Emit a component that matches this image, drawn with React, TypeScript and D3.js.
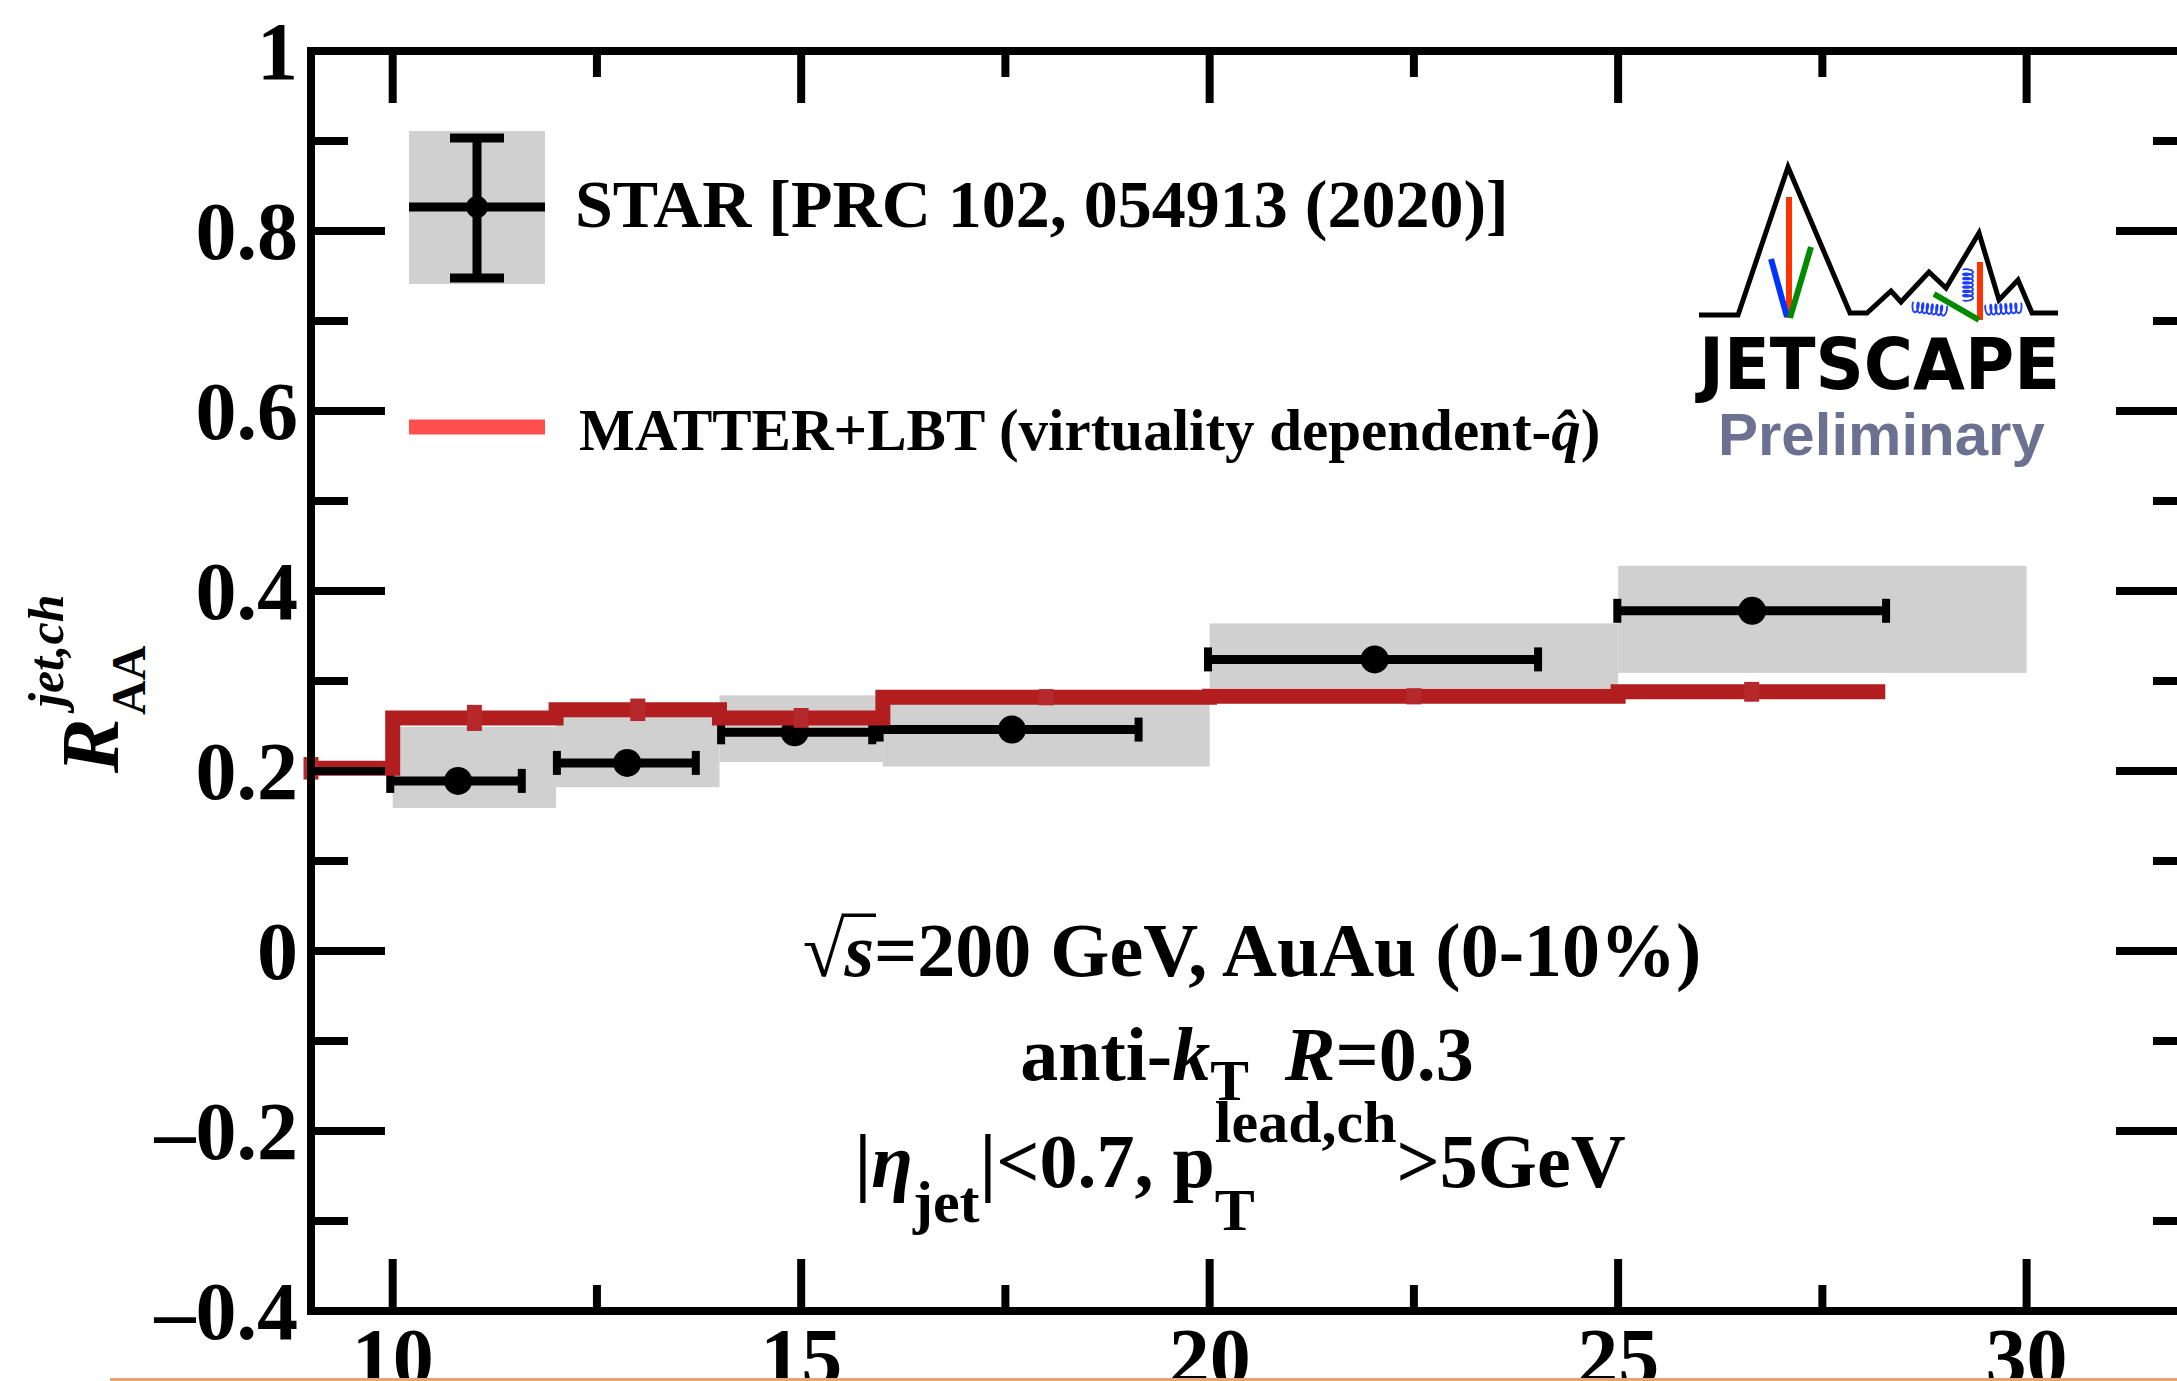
import { useEffect, useRef } from 'react'
import * as d3 from 'd3'

const W = 2177
const H = 1381

// STAR charged-jet R_AA, 0-10% AuAu
const starX = [10.8, 12.87, 14.92, 17.58, 22.02, 26.64]
const starY = [0.189, 0.209, 0.243, 0.246, 0.324, 0.378]
const starXLow = [9.97, 12.01, 14.02, 15.96, 19.98, 24.99]
const starXHigh = [11.58, 13.71, 15.87, 19.13, 24.02, 28.28]
// systematic boxes
const sysXLow = [10, 12, 14, 16, 20, 25]
const sysXHigh = [12, 14, 16, 20, 25, 30]
const sysYLow = [0.159, 0.182, 0.21, 0.205, 0.292, 0.309]
const sysYHigh = [0.249, 0.262, 0.284, 0.276, 0.364, 0.428]

// MATTER+LBT histogram
const modelEdges = [8, 10, 12, 14, 16, 20, 25, 28.27]
const modelY = [0.203, 0.259, 0.268, 0.259, 0.282, 0.283, 0.288]
const modelErr = [0.0125, 0.0145, 0.0125, 0.011, 0.009, 0.009, 0.011]

const xMajor = [10, 15, 20, 25, 30]
const xMinor = [12.5, 17.5, 22.5, 27.5]
const yMajor = [-0.4, -0.2, 0, 0.2, 0.4, 0.6, 0.8, 1]
const yMinor = [-0.3, -0.1, 0.1, 0.3, 0.5, 0.7, 0.9]
const yLabels = ['\u20130.4', '\u20130.2', '0', '0.2', '0.4', '0.6', '0.8', '1']

const SERIF = '"Liberation Serif", "Times New Roman", serif'
const GRAY = '#d0d0d0'
const MODEL = '#b21e20'

type Part = { t: string; size?: number; italic?: boolean; dy?: number; dx?: number; stack?: boolean; bar?: boolean }

// lays out a line of mixed text pieces and centres it on cx
function richLine(
  parent: d3.Selection<SVGGElement, unknown, null, undefined>,
  parts: Part[],
  cx: number,
  baseline: number,
  baseSize: number
) {
  const g = parent.append('g')
  let x = 0
  let prevStart = 0
  let prevW = 0
  parts.forEach(p => {
    const size = p.size || baseSize
    const start = p.stack ? prevStart : x + (p.dx || 0)
    const el = g.append('text')
      .attr('x', start)
      .attr('y', baseline + (p.dy || 0))
      .style('font-size', size + 'px')
      .style('font-style', p.italic ? 'italic' : 'normal')
      .text(p.t)
    const w = (el.node() as SVGTextElement).getComputedTextLength()
    if (p.bar) {
      g.append('line')
        .attr('x1', start - 3)
        .attr('x2', start + w + 2)
        .attr('y1', baseline - size * 0.8)
        .attr('y2', baseline - size * 0.8)
        .style('stroke', '#000')
        .style('stroke-width', '3.5px')
    }
    if (p.stack) {
      x = prevStart + Math.max(prevW, w)
    } else {
      prevStart = start
      prevW = w
      x = start + w
    }
  })
  g.attr('transform', `translate(${cx - x / 2},0)`)
}

function coil(x1: number, y1: number, x2: number, y2: number, n: number, r: number) {
  const L = Math.hypot(x2 - x1, y2 - y1)
  const ux = (x2 - x1) / L
  const uy = (y2 - y1) / L
  const px = -uy
  const py = ux
  const pts: [number, number][] = []
  const steps = n * 24
  for (let i = 0; i <= steps; i++) {
    const t = i / steps
    const th = 2 * Math.PI * n * t
    const a = L * t - r * 0.35 * Math.sin(th)
    const b = -r * Math.cos(th)
    pts.push([x1 + ux * a + px * b, y1 + uy * a + py * b])
  }
  return d3.line()(pts)
}

export default function App() {
  const svgRef = useRef<SVGSVGElement>(null)

  useEffect(() => {
    if (!svgRef.current) return
    const svg = d3.select(svgRef.current)
    svg.selectAll('*').remove()

    const x = d3.scaleLinear().domain([9, 32]).range([311, 2190])
    const y = d3.scaleLinear().domain([-0.4, 1]).range([1311, 51])

    svg.append('rect').attr('width', W).attr('height', H).style('fill', '#fff')

    const defs = svg.append('defs')
    defs.append('clipPath').attr('id', 'plot')
      .append('rect')
      .attr('x', x(9)).attr('y', y(1))
      .attr('width', x(32) - x(9)).attr('height', y(-0.4) - y(1))

    // Systematic boxes
    svg.append('g').selectAll('rect')
      .data(starX)
      .join('rect')
      .attr('x', (_, i) => x(sysXLow[i]))
      .attr('y', (_, i) => y(sysYHigh[i]))
      .attr('width', (_, i) => x(sysXHigh[i]) - x(sysXLow[i]))
      .attr('height', (_, i) => y(sysYLow[i]) - y(sysYHigh[i]))
      .style('fill', GRAY)

    // STAR points
    const pts = svg.append('g')
    pts.selectAll('.xerr')
      .data(starX)
      .join('line')
      .attr('class', 'xerr')
      .attr('x1', (_, i) => x(starXLow[i]))
      .attr('x2', (_, i) => x(starXHigh[i]))
      .attr('y1', (_, i) => y(starY[i]))
      .attr('y2', (_, i) => y(starY[i]))
      .style('stroke', '#000')
      .style('stroke-width', '9px')
    const caps = starX.flatMap((_, i) => [
      { cx: starXLow[i], cy: starY[i] },
      { cx: starXHigh[i], cy: starY[i] }
    ])
    pts.selectAll('.cap')
      .data(caps)
      .join('line')
      .attr('class', 'cap')
      .attr('x1', d => x(d.cx))
      .attr('x2', d => x(d.cx))
      .attr('y1', d => y(d.cy) - 12)
      .attr('y2', d => y(d.cy) + 12)
      .style('stroke', '#000')
      .style('stroke-width', '8px')
    pts.selectAll('circle')
      .data(starX)
      .join('circle')
      .attr('cx', d => x(d))
      .attr('cy', (_, i) => y(starY[i]))
      .attr('r', 14)
      .style('fill', '#000')

    // Model histogram
    const stepPts: [number, number][] = modelY.map((v, i) => [modelEdges[i], v])
    stepPts.push([modelEdges[modelEdges.length - 1], modelY[modelY.length - 1]])
    const step = d3.line<[number, number]>()
      .x(d => x(d[0]))
      .y(d => y(d[1]))
      .curve(d3.curveStepAfter)
    svg.append('path')
      .datum(stepPts)
      .attr('d', step)
      .attr('clip-path', 'url(#plot)')
      .style('fill', 'none')
      .style('stroke', MODEL)
      .style('stroke-width', '15px')
    svg.append('g').selectAll('line')
      .data(modelY)
      .join('line')
      .attr('x1', (_, i) => x(Math.max(9, (modelEdges[i] + modelEdges[i + 1]) / 2)))
      .attr('x2', (_, i) => x(Math.max(9, (modelEdges[i] + modelEdges[i + 1]) / 2)))
      .attr('y1', (d, i) => y(d + modelErr[i]))
      .attr('y2', (d, i) => y(d - modelErr[i]))
      .style('stroke', '#b5282b')
      .style('stroke-width', '15px')

    // Frame and ticks
    svg.append('rect')
      .attr('x', x(9)).attr('y', y(1))
      .attr('width', x(32) - x(9)).attr('height', y(-0.4) - y(1))
      .style('fill', 'none')
      .style('stroke', '#000')
      .style('stroke-width', '8px')

    const ticks = svg.append('g').style('stroke', '#000').style('stroke-width', '8px')
    const yT = [...yMajor.map(v => ({ v, len: 74 })), ...yMinor.map(v => ({ v, len: 37 }))]
    yT.forEach(t => {
      ticks.append('line').attr('x1', x(9)).attr('x2', x(9) + t.len).attr('y1', y(t.v)).attr('y2', y(t.v))
      ticks.append('line').attr('x1', x(32)).attr('x2', x(32) - t.len).attr('y1', y(t.v)).attr('y2', y(t.v))
    })
    const xT = [...xMajor.map(v => ({ v, len: 52 })), ...xMinor.map(v => ({ v, len: 26 }))]
    xT.forEach(t => {
      ticks.append('line').attr('x1', x(t.v)).attr('x2', x(t.v)).attr('y1', y(-0.4)).attr('y2', y(-0.4) - t.len)
      ticks.append('line').attr('x1', x(t.v)).attr('x2', x(t.v)).attr('y1', y(1)).attr('y2', y(1) + t.len)
    })

    const labels = svg.append('g')
      .style('font-family', SERIF)
      .style('font-weight', 'bold')
      .style('font-size', '82px')
    yMajor.forEach((v, i) => {
      labels.append('text')
        .attr('x', 298)
        .attr('y', y(v) + 28)
        .attr('text-anchor', 'end')
        .text(yLabels[i])
    })
    xMajor.forEach(v => {
      labels.append('text')
        .attr('x', x(v))
        .attr('y', 1385)
        .attr('text-anchor', 'middle')
        .text(String(v))
    })

    // Y title
    const yt = svg.append('g')
      .attr('transform', 'translate(118,773) rotate(-90)')
      .style('font-family', SERIF)
      .style('font-weight', 'bold')
    yt.append('text').style('font-size', '82px').style('font-style', 'italic').text('R')
    yt.append('text').attr('x', 66).attr('y', -55).style('font-size', '50px').style('font-style', 'italic').text('jet,ch')
    yt.append('text').attr('x', 58).attr('y', 27).style('font-size', '48px').text('AA')

    // Legend
    const leg = svg.append('g')
    leg.append('rect').attr('x', 409).attr('y', 131).attr('width', 136).attr('height', 153).style('fill', GRAY)
    leg.append('line').attr('x1', 409).attr('x2', 545).attr('y1', 207).attr('y2', 207)
      .style('stroke', '#000').style('stroke-width', '9px')
    leg.append('line').attr('x1', 477).attr('x2', 477).attr('y1', 138).attr('y2', 278)
      .style('stroke', '#000').style('stroke-width', '9px')
    ;[138, 278].forEach(cy => {
      leg.append('line').attr('x1', 450).attr('x2', 504).attr('y1', cy).attr('y2', cy)
        .style('stroke', '#000').style('stroke-width', '9px')
    })
    leg.append('circle').attr('cx', 477).attr('cy', 207).attr('r', 11).style('fill', '#000')
    leg.append('line').attr('x1', 409).attr('x2', 545).attr('y1', 427).attr('y2', 427)
      .style('stroke', '#ff4f4f').style('stroke-width', '15px')
    leg.append('text')
      .attr('x', 575).attr('y', 227)
      .style('font-family', SERIF).style('font-weight', 'bold').style('font-size', '68px')
      .text('STAR [PRC 102, 054913 (2020)]')
    const t2 = leg.append('text')
      .attr('x', 579).attr('y', 450)
      .style('font-family', SERIF).style('font-weight', 'bold').style('font-size', '59px')
    t2.append('tspan').text('MATTER+LBT (virtuality dependent-')
    t2.append('tspan').style('font-style', 'italic').text('q\u0302')
    t2.append('tspan').text(')')

    // Annotations
    const ann = svg.append('g').style('font-family', SERIF).style('font-weight', 'bold')
    richLine(ann, [
      { t: '\u221a' },
      { t: 's', italic: true, bar: true },
      { t: '=200 GeV, AuAu (0-10%)' }
    ], 1252, 976, 76)
    richLine(ann, [
      { t: 'anti-' },
      { t: 'k', italic: true },
      { t: 'T', size: 58, dy: 20 },
      { t: 'R', italic: true, dx: 36 },
      { t: '=0.3' }
    ], 1247, 1080, 76)
    richLine(ann, [
      { t: '|' },
      { t: '\u03b7', italic: true },
      { t: 'jet', size: 60, dy: 35 },
      { t: '|<0.7, p' },
      { t: 'T', size: 60, dy: 43 },
      { t: 'lead,ch', size: 60, dy: -45, stack: true },
      { t: '>5GeV' }
    ], 1240, 1187, 76)

    // JETSCAPE logo
    const logo = svg.append('g')
    const ridge: [number, number][] = [
      [1699, 315], [1738, 315], [1788, 167], [1850, 313], [1867, 313], [1891, 291],
      [1901, 302], [1929, 272], [1946, 288], [1979, 233], [1999, 300], [2018, 280],
      [2032, 313], [2058, 313]
    ]
    logo.append('path').attr('d', d3.line()(ridge))
      .style('fill', 'none').style('stroke', '#000').style('stroke-width', '5px')
      .style('stroke-linejoin', 'miter')
    const seg = (a: [number, number], b: [number, number], c: string) =>
      logo.append('line').attr('x1', a[0]).attr('y1', a[1]).attr('x2', b[0]).attr('y2', b[1])
        .style('stroke', c).style('stroke-width', '6px')
    seg([1789, 197], [1789, 318], '#ff3300')
    seg([1771, 259], [1787, 317], '#0033ff')
    seg([1811, 247], [1790, 318], '#008a00')
    seg([1980, 262], [1980, 320], '#ff3300')
    seg([1934, 294], [1979, 320], '#008a00')
    ;[
      [1913, 307, 1946, 311, 7],
      [1968, 300, 1968, 270, 7],
      [1986, 310, 2021, 308, 7]
    ].forEach(([a, b, c, d, n]) => {
      logo.append('path').attr('d', coil(a, b, c, d, n, 5))
        .style('fill', 'none').style('stroke', '#1a3cff').style('stroke-width', '1.8px')
    })
    logo.append('text')
      .attr('x', 1699).attr('y', 389)
      .attr('textLength', 361).attr('lengthAdjust', 'spacingAndGlyphs')
      .style('font-family', '"DejaVu Sans", sans-serif').style('font-weight', 'bold')
      .style('font-size', '71px')
      .text('JETSCAPE')
    logo.append('text')
      .attr('x', 1718).attr('y', 455)
      .style('font-family', '"Liberation Sans", Arial, sans-serif').style('font-weight', 'bold')
      .style('font-size', '60px').style('fill', '#6c7191')
      .text('Preliminary')

    // thin strip along the bottom edge
    svg.append('rect').attr('x', 110).attr('y', 1378).attr('width', W - 110).attr('height', 3)
      .style('fill', '#e6a474')
  }, [])

  return (
    <div style={{ position: 'absolute', left: 0, top: 0 }}>
      <svg ref={svgRef} width={W} height={H} style={{ display: 'block' }} />
    </div>
  )
}
